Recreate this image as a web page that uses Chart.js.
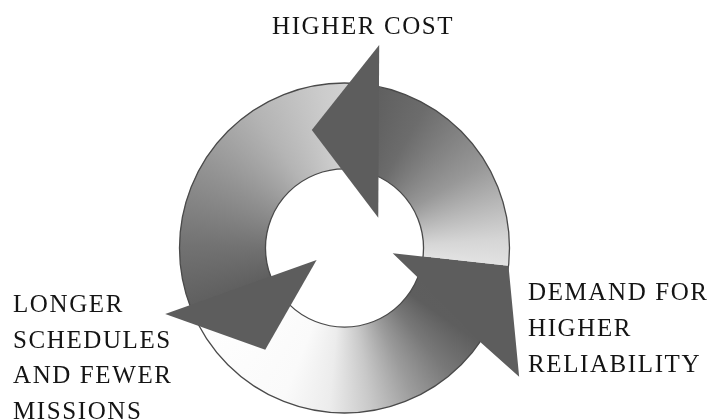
<!DOCTYPE html>
<html>
<head>
<meta charset="utf-8">
<script src="https://cdn.jsdelivr.net/npm/chart.js@4/dist/chart.umd.min.js"></script>
<style>
  html, body { margin: 0; padding: 0; background: #ffffff; }
  #wrap { position: relative; width: 709px; height: 420px; }
</style>
</head>
<body>
<div id="wrap"><canvas id="c" width="709" height="420"></canvas></div>
<script>
// ---- data ----
const categories = ['HIGHER COST', 'DEMAND FOR HIGHER RELIABILITY', 'LONGER SCHEDULES AND FEWER MISSIONS'];
const arcSpans = [92.3, 151.2, 116.5];           // degrees of the ring taken by each arrow
const labelLines = [
  ['HIGHER COST'],
  ['DEMAND FOR', 'HIGHER', 'RELIABILITY'],
  ['LONGER', 'SCHEDULES', 'AND FEWER', 'MISSIONS']
];

// ---- styles ----
const segmentStops = [   // position within segment (0 = start, 1 = end) -> colour
  [[0, '#5a5a5a'], [0.28, '#6c6c6c'], [0.6, '#989898'], [0.9, '#d6d6d6'], [1, '#e2e2e2']],
  [[0, '#5c5c5c'], [0.19, '#5e5e5e'], [0.29, '#787878'], [0.39, '#9c9c9c'], [0.49, '#c8c8c8'], [0.59, '#ececec'], [0.7, '#fafafa'], [1, '#ffffff']],
  [[0, '#5e5e5e'], [0.2, '#727272'], [0.45, '#939393'], [0.68, '#b4b4b4'], [0.9, '#cccccc'], [1, '#d4d4d4']]
];
const headStyle = {
  color: '#5d5d5d',
  // points: [angle offset from segment start (deg), radius as fraction of outer radius]
  shapes: [
    [[5.7, 1.248], [-19.5, 0.742], [44.1, 0.275]],
    [[0, 0.294], [0, 1.0], [30.1, 1.315], [28.5, 1.012], [15.7, 0.479]],
    [[2.3, 1.158], [-29.6, 0.782], [-0.8, 0.184]]
  ]
};
const labelStyle = {
  font: '25px "Liberation Serif", "DejaVu Serif", serif',
  color: '#141414',
  spacing: 1.6,
  lineHeight: 35.8,
  anchors: [[272, 34.3], [528, 300], [13, 311.7]]
};
const ROTATION = 4;

function conicFill(context) {
  const chart = context.chart;
  const ca = chart.chartArea;
  if (!ca) return '#999';
  const cx = (ca.left + ca.right) / 2, cy = (ca.top + ca.bottom) / 2;
  const g = chart.ctx.createConicGradient((ROTATION - 90) * Math.PI / 180, cx, cy);
  const total = arcSpans.reduce((a, b) => a + b, 0);
  let acc = 0;
  arcSpans.forEach((s, i) => {
    segmentStops[i].forEach(([p, col]) => {
      const pos = Math.min(1, Math.max(0, (acc + p * s) / total));
      g.addColorStop(pos, col);
    });
    acc += s;
  });
  return g;
}

const cyclePlugin = {
  id: 'cycleArrows',
  afterDatasetsDraw(chart) {
    const ctx = chart.ctx;
    const meta = chart.getDatasetMeta(0);
    const a0 = meta.data[0];
    const {x, y, outerRadius, innerRadius} = a0.getProps(['x', 'y', 'outerRadius', 'innerRadius'], true);
    ctx.save();
    // ring outlines
    ctx.strokeStyle = '#4a4a4a';
    ctx.lineWidth = 1.3;
    ctx.beginPath(); ctx.arc(x, y, outerRadius, 0, Math.PI * 2); ctx.stroke();
    ctx.beginPath(); ctx.arc(x, y, innerRadius, 0, Math.PI * 2); ctx.stroke();
    // arrow heads
    ctx.fillStyle = headStyle.color;
    meta.data.forEach((arc, i) => {
      const p = arc.getProps(['startAngle'], true);
      const pts = headStyle.shapes[i];
      ctx.beginPath();
      pts.forEach(([da, rf], k) => {
        const ang = p.startAngle + da * Math.PI / 180;
        const px = x + Math.cos(ang) * rf * outerRadius;
        const py = y + Math.sin(ang) * rf * outerRadius;
        if (k === 0) ctx.moveTo(px, py); else ctx.lineTo(px, py);
      });
      ctx.closePath();
      ctx.fill();
    });
    ctx.restore();
  },
  afterDraw(chart) {
    const ctx = chart.ctx;
    ctx.save();
    ctx.font = labelStyle.font;
    ctx.fillStyle = labelStyle.color;
    ctx.textBaseline = 'alphabetic';
    ctx.textAlign = 'left';
    const hasLS = ('letterSpacing' in ctx);
    if (hasLS) ctx.letterSpacing = labelStyle.spacing + 'px';
    labelLines.forEach((lines, i) => {
      const [ax, ay] = labelStyle.anchors[i];
      lines.forEach((t, j) => {
        const yy = ay + j * labelStyle.lineHeight;
        if (hasLS) {
          ctx.fillText(t, ax, yy);
        } else {
          let xx = ax;
          for (const ch of t) { ctx.fillText(ch, xx, yy); xx += ctx.measureText(ch).width + labelStyle.spacing; }
        }
      });
    });
    ctx.restore();
  }
};

new Chart(document.getElementById('c'), {
  type: 'doughnut',
  data: {
    labels: categories,
    datasets: [{
      data: arcSpans,
      backgroundColor: conicFill,
      borderWidth: 0,
      hoverOffset: 0
    }]
  },
  options: {
    responsive: false,
    animation: false,
    rotation: ROTATION,
    cutout: '47.9%',
    layout: { padding: { top: 83, bottom: 7, left: 0, right: 20 } },
    plugins: {
      legend: { display: false },
      tooltip: { enabled: false }
    },
    events: []
  },
  plugins: [cyclePlugin]
});
</script>
</body>
</html>
